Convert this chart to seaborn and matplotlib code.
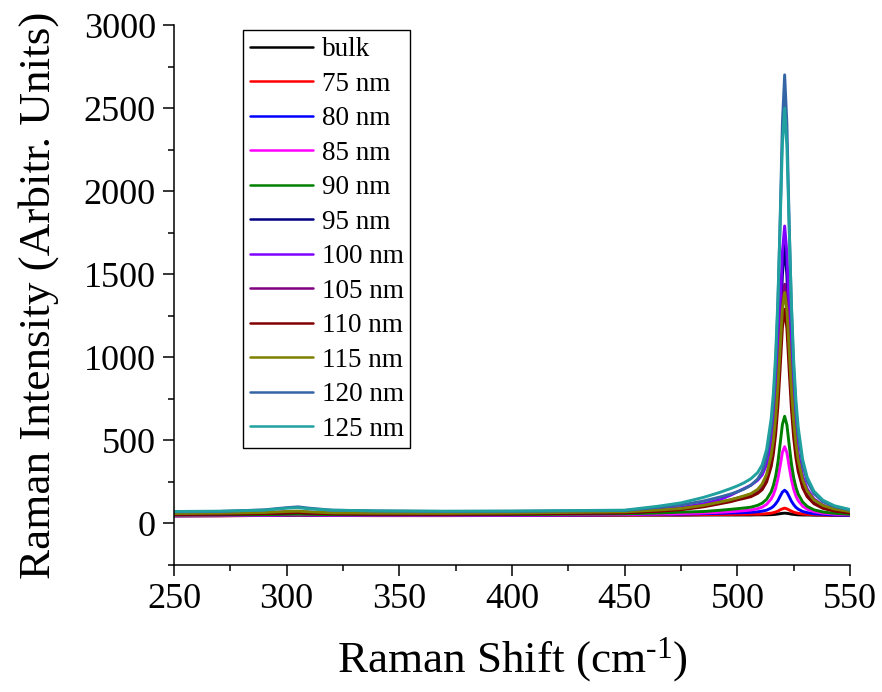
import matplotlib
matplotlib.use("Agg")
import matplotlib.pyplot as plt
import pandas as pd
import seaborn as sns
from matplotlib.ticker import MultipleLocator

# Raman shift grid (cm^-1), denser around the Si optical phonon
shift = [250, 270, 290, 300, 305, 310, 320, 340, 370, 400, 430, 450,
         465, 475, 485, 492, 497, 500, 503, 506, 509, 511, 513, 515,
         516, 517, 518, 519, 520, 521, 522, 523, 524, 525, 526, 527,
         529, 531, 534, 538, 543, 550]

bulk = [47, 47, 48, 49, 50, 49, 48, 48, 48, 48, 49, 50,
        50, 50, 51, 51, 51, 51, 51, 51, 52, 52, 52, 53,
        54, 55, 57, 59, 61, 62, 61, 59, 56, 55, 53, 52,
        51, 51, 50, 50, 49, 49]
nm75 = [45, 46, 48, 50, 51, 50, 48, 47, 47, 48, 50, 51,
        52, 52, 53, 54, 54, 55, 55, 56, 56, 57, 59, 62,
        65, 69, 74, 82, 88, 92, 88, 81, 74, 68, 64, 61,
        57, 55, 53, 51, 50, 49]
nm80 = [46, 47, 49, 51, 52, 51, 49, 48, 48, 49, 51, 53,
        56, 56, 59, 61, 63, 64, 65, 67, 70, 74, 80, 93,
        103, 118, 137, 164, 189, 200, 188, 162, 134, 113, 97, 86,
        72, 65, 58, 55, 51, 49]
nm85 = [47, 48, 50, 52, 53, 52, 50, 49, 49, 50, 52, 54,
        57, 59, 63, 67, 71, 74, 77, 81, 89, 98, 115, 147,
        173, 212, 270, 346, 428, 462, 426, 343, 265, 206, 165, 138,
        104, 86, 71, 62, 56, 52]
nm90 = [50, 51, 53, 55, 56, 55, 53, 52, 52, 53, 56, 58,
        63, 68, 72, 79, 85, 89, 93, 98, 109, 122, 145, 190,
        229, 285, 367, 479, 596, 645, 593, 474, 360, 276, 218, 177,
        129, 103, 82, 69, 61, 55]
nm95 = [55, 57, 60, 64, 66, 63, 59, 57, 56, 58, 62, 65,
        76, 87, 105, 125, 140, 151, 161, 172, 193, 219, 270, 376,
        468, 609, 826, 1138, 1496, 1675, 1491, 1128, 811, 589, 442, 345,
        231, 172, 125, 95, 78, 65]
nm100 = [58, 60, 64, 70, 72, 68, 63, 61, 60, 62, 66, 69,
         83, 96, 119, 142, 170, 190, 210, 230, 260, 292, 355, 480,
         588, 732, 970, 1293, 1634, 1790, 1627, 1281, 952, 708, 540, 422,
         283, 208, 148, 110, 88, 71]
nm105 = [56, 58, 62, 67, 69, 65, 60, 58, 57, 59, 63, 66,
         76, 87, 105, 126, 141, 152, 163, 174, 196, 222, 275, 377,
         465, 595, 785, 1043, 1314, 1440, 1309, 1033, 770, 575, 439, 346,
         236, 175, 128, 97, 79, 66]
nm110 = [54, 56, 59, 63, 65, 62, 58, 56, 55, 57, 61, 64,
         74, 83, 100, 118, 131, 142, 151, 161, 181, 203, 250, 342,
         420, 536, 706, 935, 1178, 1290, 1173, 926, 692, 517, 397, 314,
         215, 161, 119, 91, 75, 63]
nm115 = [60, 62, 66, 72, 74, 70, 64, 62, 61, 63, 67, 70,
         81, 90, 109, 128, 143, 154, 166, 179, 205, 237, 296, 409,
         501, 635, 821, 1058, 1288, 1390, 1284, 1049, 808, 617, 479, 382,
         262, 196, 142, 108, 87, 72]
nm120 = [70, 72, 82, 95, 100, 92, 80, 75, 72, 73, 76, 78,
         97, 111, 135, 158, 177, 191, 207, 230, 267, 312, 399, 576,
         729, 961, 1316, 1825, 2411, 2700, 2402, 1811, 1296, 935, 698, 539,
         353, 256, 180, 131, 102, 81]
nm125 = [72, 74, 80, 92, 95, 88, 80, 76, 74, 75, 78, 80,
         104, 124, 157, 186, 210, 226, 245, 269, 306, 352, 446, 630,
         786, 1016, 1351, 1805, 2283, 2500, 2268, 1783, 1322, 980, 743, 580,
         384, 278, 194, 140, 107, 84]

labels = ["bulk", "75 nm", "80 nm", "85 nm", "90 nm", "95 nm", "100 nm",
          "105 nm", "110 nm", "115 nm", "120 nm", "125 nm"]
series = [bulk, nm75, nm80, nm85, nm90, nm95, nm100,
          nm105, nm110, nm115, nm120, nm125]
colors = ["#000000", "#FF0000", "#0000FF", "#FF00FF", "#008000", "#000080",
          "#8000FF", "#800080", "#800000", "#808000", "#3465A4", "#21A0A0"]

rows = []
for lab, vals in zip(labels, series):
    rows.extend((x, y, lab) for x, y in zip(shift, vals))
df = pd.DataFrame(rows, columns=["shift", "intensity", "sample"])

sns.set_theme(style="ticks")
plt.rcParams["font.family"] = ["Liberation Serif", "DejaVu Serif"]
plt.rcParams["mathtext.fontset"] = "custom"
plt.rcParams["mathtext.rm"] = "Liberation Serif"
plt.rcParams["mathtext.it"] = "Liberation Serif:italic"
for key in ["text.color", "axes.labelcolor", "xtick.color", "ytick.color",
            "axes.edgecolor"]:
    plt.rcParams[key] = "black"

fig = plt.figure(figsize=(8.82, 6.92), dpi=100)
ax = fig.add_axes([174 / 882, 1 - 565 / 692, 676 / 882, 540 / 692])

sns.lineplot(data=df, x="shift", y="intensity", hue="sample",
             hue_order=labels, palette=colors, linewidth=2.1,
             estimator=None, ax=ax)

ax.set_xlim(250, 550)
ax.set_ylim(-250, 3000)
ax.xaxis.set_major_locator(MultipleLocator(50))
ax.xaxis.set_minor_locator(MultipleLocator(25))
ax.yaxis.set_major_locator(MultipleLocator(500))
ax.yaxis.set_minor_locator(MultipleLocator(250))
ax.set_yticks([0, 500, 1000, 1500, 2000, 2500, 3000])

for side in ["top", "right"]:
    ax.spines[side].set_visible(False)
for side in ["left", "bottom"]:
    ax.spines[side].set_linewidth(1.1)

ax.tick_params(which="major", direction="out", length=8, width=1.1,
               labelsize=26, pad=5)
ax.tick_params(which="minor", direction="out", length=4.3, width=1.1)

ax.set_xlabel(r"Raman Shift (cm$^{\text{-1}}$)", fontsize=32.5, labelpad=14)
ax.set_ylabel("Raman Intensity (Arbitr. Units)", fontsize=32.5, labelpad=18)

handles, _ = ax.get_legend_handles_labels()
ax.get_legend().remove()
leg = ax.legend(handles, labels, loc="upper left",
                bbox_to_anchor=(243 / 882, 1 - 30.5 / 692),
                bbox_transform=fig.transFigure, borderaxespad=0,
                fontsize=19.5, frameon=True, fancybox=False, framealpha=1,
                edgecolor="black", handlelength=2.35, handletextpad=0.3,
                labelspacing=0.35, borderpad=0.25)
leg.get_frame().set_linewidth(1.0)
for h in leg.get_lines():
    h.set_linewidth(1.8)

fig.savefig("out.png", dpi=100)
